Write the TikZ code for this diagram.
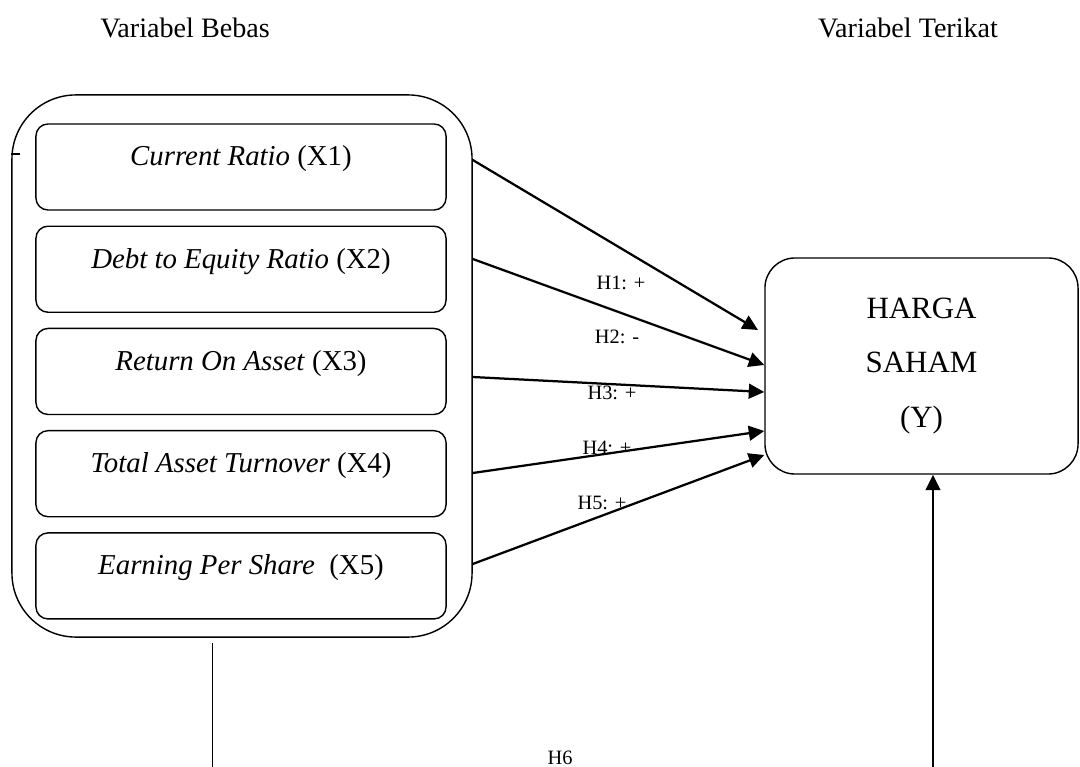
\documentclass[tikz,border=0pt]{standalone}
\usepackage{fontspec}
\setmainfont{Liberation Serif}
\usetikzlibrary{positioning,arrows.meta}

\begin{document}
\begin{tikzpicture}[
x=0.025cm, y=-0.025cm,
node distance=0.37cm,
group/.style={draw, rounded corners=1.6cm, line width=1pt, minimum width=11.5cm, minimum height=13.55cm},
varbox/.style={draw, rounded corners=0.3cm, line width=1pt, minimum width=10.25cm, minimum height=2.15cm, text depth=0.55cm, font=\fontsize{20.5}{24}\selectfont},
ybox/.style={draw, rounded corners=0.75cm, line width=1pt, minimum width=7.825cm, minimum height=5.4cm, align=center, font=\fontsize{22}{39}\selectfont},
hlabel/.style={font=\fontsize{14.5}{17}\selectfont},
headtext/.style={font=\fontsize{20}{24}\selectfont},
arrow/.style={-{Triangle[length=11pt,width=10.5pt]}, line width=1.6pt}
]
\useasboundingbox (0,0) rectangle (1080,767);

\node[headtext] (bebas) at (185,28) {Variabel Bebas};
\node[headtext] (terikat) at (908,28) {Variabel Terikat};

\node[group] (group) at (242,366) {};
\node[varbox] (x1) at (241,167) {\textit{Current Ratio} (X1)};
\node[varbox, below=of x1] (x2) {\textit{Debt to Equity Ratio} (X2)};
\node[varbox, below=of x2] (x3) {\textit{Return On Asset} (X3)};
\node[varbox, below=of x3] (x4) {\textit{Total Asset Turnover} (X4)};
\node[varbox, below=of x4] (x5) {\textit{Earning Per Share}\ \ (X5)};

\node[ybox] (harga) at (921.5,366) {HARGA\\SAHAM\\(Y)};

% arrow ends
\coordinate (s1) at (group.east |- 0,160);
\coordinate (s2) at (group.east |- 0,259);
\coordinate (s3) at (group.east |- 0,377);
\coordinate (s4) at (group.east |- 0,473);
\coordinate (s5) at (group.east |- 0,564);
\coordinate (e1) at (758,330);
\coordinate (e2) at (harga.west |- 0,365);
\coordinate (e3) at (harga.west |- 0,392);
\coordinate (e4) at (harga.west |- 0,431);
\coordinate (e5) at (harga.west |- 0,455);

\draw[arrow] (s1) -- (e1);
\draw[arrow] (s2) -- (e2);
\draw[arrow] (s3) -- (e3);
\draw[arrow] (s4) -- (e4);
\draw[arrow] (s5) -- (e5);

\node[hlabel] (h1) at (621,283) {H1: +};
\node[hlabel] (h2) at (617,337) {H2: -};
\node[hlabel] (h3) at (612,393) {H3: +};
\node[hlabel] (h4) at (607,448) {H4: +};
\node[hlabel] (h5) at (602,503) {H5: +};
\node[hlabel] (h6) at (560,758) {H6};

% bottom link
\coordinate (t1) at (212,643);
\coordinate (b1) at (212,767);
\coordinate (b2) at (933,767);
\draw[line width=0.7pt] (t1) -- (b1);
\draw[arrow] (b2) -- (harga.south -| b2);

\draw[line width=1pt] (group.west |- 0,154) -- ++(9,0);
\end{tikzpicture}
\end{document}
